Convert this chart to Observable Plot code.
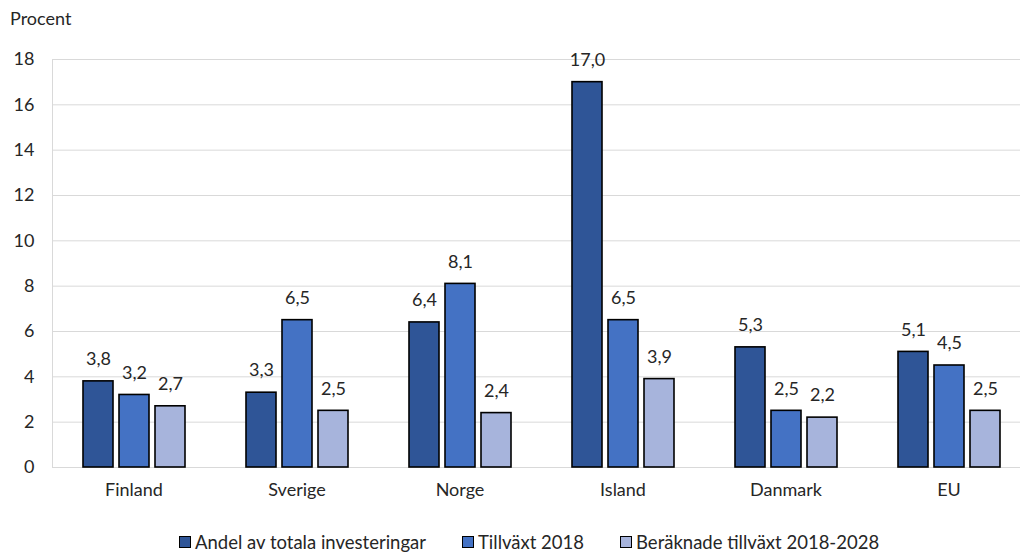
<!DOCTYPE html>
<html>
<head>
<meta charset="utf-8">
<script src="https://cdn.jsdelivr.net/npm/d3@7"></script>
<script src="https://cdn.jsdelivr.net/npm/@observablehq/plot@0.6"></script>
<style>
  html, body { margin: 0; padding: 0; background: #fff; overflow: hidden; }
  #wrap { position: relative; width: 1020px; height: 552px; font-family: Lato, "Open Sans", sans-serif; color: #262626; }
  #ylabel { position: absolute; left: 10px; top: 7px; font-size: 18px; }
  #legend { position: absolute; left: 179px; top: 531px; display: flex; gap: 36px; font-size: 18.5px; white-space: nowrap; }
  .item { display: flex; align-items: center; gap: 4px; }
  .sw { width: 10px; height: 10px; border: 1px solid #000; }
</style>
</head>
<body>
<div id="wrap">
  <div id="chart"></div>
  <div id="ylabel">Procent</div>
  <div id="legend"></div>
</div>
<script>
const countries = ["Finland", "Sverige", "Norge", "Island", "Danmark", "EU"];
const seriesNames = ["Andel av totala investeringar", "Tillväxt 2018", "Beräknade tillväxt 2018-2028"];
const andel = [3.8, 3.3, 6.4, 17.0, 5.3, 5.1];
const tillvaxt2018 = [3.2, 6.5, 8.1, 6.5, 2.5, 4.5];
const beraknad = [2.7, 2.5, 2.4, 3.9, 2.2, 2.5];
const yTicks = [0, 2, 4, 6, 8, 10, 12, 14, 16, 18];
const colors = ["#2F5597", "#4472C4", "#A7B4DC"];

const seriesValues = [andel, tillvaxt2018, beraknad];
const data = [];
countries.forEach((c, i) => {
  seriesNames.forEach((s, j) => data.push({country: c, series: s, value: seriesValues[j][i]}));
});
const fmt = v => d3.format(".1f")(v).replace(".", ",");

const chart = Plot.plot({
  width: 1020,
  height: 525,
  marginLeft: 52,
  marginRight: -10,
  marginTop: 59,
  marginBottom: 58,
  style: {fontFamily: "Lato, 'Open Sans', sans-serif", fontSize: "18px", color: "#262626", overflow: "visible"},
  fx: {domain: countries, padding: 0, label: null, tickSize: 0, tickPadding: 16},
  x: {domain: seriesNames, paddingInner: 0.1667, paddingOuter: 0.847, axis: null},
  y: {domain: [0, 18], ticks: yTicks, label: null, tickSize: 0, tickPadding: 18},
  color: {domain: seriesNames, range: colors},
  marks: [
    Plot.gridY(yTicks, {stroke: "#d9d9d9", strokeOpacity: 1, strokeWidth: 1}),
    Plot.barY(data, {fx: "country", x: "series", y: "value", fill: "series", stroke: "#000", strokeWidth: 1.6}),
    Plot.text(data, {fx: "country", x: "series", y: "value", text: d => fmt(d.value), dy: -22, fill: "#262626", fontSize: 18})
  ]
});
document.getElementById("chart").appendChild(chart);

// left border line of plot area
const ys = chart.scale("y");
d3.select(chart).append("line")
  .attr("x1", 52.5).attr("x2", 52.5)
  .attr("y1", ys.range[0]).attr("y2", ys.range[1])
  .attr("stroke", "#d9d9d9").attr("stroke-width", 1);

const legend = d3.select("#legend");
seriesNames.forEach((s, j) => {
  const it = legend.append("div").attr("class", "item");
  it.append("div").attr("class", "sw").style("background", colors[j]);
  it.append("span").text(s);
});
</script>
</body>
</html>
